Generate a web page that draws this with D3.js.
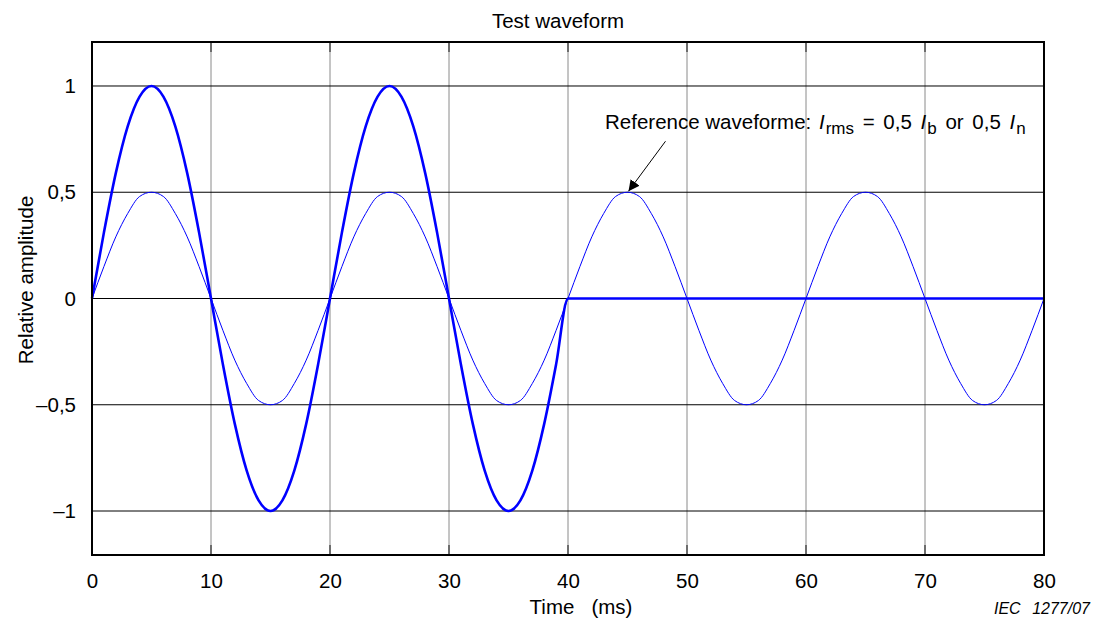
<!DOCTYPE html>
<html>
<head>
<meta charset="utf-8">
<script src="https://cdn.jsdelivr.net/npm/d3@7"></script>
<style>
  body { margin: 0; background: #fff; }
  svg text { font-family: "Liberation Sans", Arial, sans-serif; fill: #000; }
</style>
</head>
<body>
<div id="chart"></div>
<script>
// --- Data (time in ms, relative amplitude) ---
const timeMs = d3.range(0, 81, 1);

const referenceWave = [
  0, 0.15, 0.29, 0.40, 0.48, 0.50, 0.48, 0.40, 0.29, 0.15,
  0, -0.15, -0.29, -0.40, -0.48, -0.50, -0.48, -0.40, -0.29, -0.15,
  0, 0.15, 0.29, 0.40, 0.48, 0.50, 0.48, 0.40, 0.29, 0.15,
  0, -0.15, -0.29, -0.40, -0.48, -0.50, -0.48, -0.40, -0.29, -0.15,
  0, 0.15, 0.29, 0.40, 0.48, 0.50, 0.48, 0.40, 0.29, 0.15,
  0, -0.15, -0.29, -0.40, -0.48, -0.50, -0.48, -0.40, -0.29, -0.15,
  0, 0.15, 0.29, 0.40, 0.48, 0.50, 0.48, 0.40, 0.29, 0.15,
  0, -0.15, -0.29, -0.40, -0.48, -0.50, -0.48, -0.40, -0.29, -0.15,
  0
];

const testWave = [
  0, 0.31, 0.59, 0.81, 0.95, 1.00, 0.95, 0.81, 0.59, 0.31,
  0, -0.31, -0.59, -0.81, -0.95, -1.00, -0.95, -0.81, -0.59, -0.31,
  0, 0.31, 0.59, 0.81, 0.95, 1.00, 0.95, 0.81, 0.59, 0.31,
  0, -0.31, -0.59, -0.81, -0.95, -1.00, -0.95, -0.81, -0.59, -0.31,
  0, 0, 0, 0, 0, 0, 0, 0, 0, 0,
  0, 0, 0, 0, 0, 0, 0, 0, 0, 0,
  0, 0, 0, 0, 0, 0, 0, 0, 0, 0,
  0, 0, 0, 0, 0, 0, 0, 0, 0, 0,
  0
];

const xTicks = [0, 10, 20, 30, 40, 50, 60, 70, 80];
const yTicks = [-1, -0.5, 0, 0.5, 1];
const yTickLabels = ["\u20131", "\u20130,5", "0", "0,5", "1"];

// --- Layout ---
const width = 1097, height = 630;
const margin = { top: 42, right: 53, bottom: 75, left: 92 };
const innerW = width - margin.left - margin.right;
const innerH = height - margin.top - margin.bottom;
const FONT = '20.5px';

const svg = d3.select('#chart').append('svg')
  .attr('width', width)
  .attr('height', height);

const x = d3.scaleLinear().domain([0, 80]).range([margin.left, margin.left + innerW]);
const y = d3.scaleLinear().domain([-1.207, 1.207]).range([margin.top + innerH, margin.top]);

// grid: light vertical, black horizontal
svg.append('g').selectAll('line')
  .data(xTicks.slice(1, -1))
  .join('line')
  .attr('x1', d => x(d)).attr('x2', d => x(d))
  .attr('y1', margin.top).attr('y2', margin.top + innerH)
  .attr('stroke', '#8a8a8a').attr('stroke-width', 1);

svg.append('g').selectAll('line')
  .data(yTicks)
  .join('line')
  .attr('x1', margin.left).attr('x2', margin.left + innerW)
  .attr('y1', d => y(d)).attr('y2', d => y(d))
  .attr('stroke', '#000').attr('stroke-width', 1);

// short inner tick marks along the frame
const tickLen = 10;
const ticks = svg.append('g').attr('stroke', '#333').attr('stroke-width', 1.2);
ticks.selectAll('line.t')
  .data(xTicks.slice(1, -1))
  .join('line')
  .attr('x1', d => x(d)).attr('x2', d => x(d))
  .attr('y1', margin.top).attr('y2', margin.top + tickLen);
ticks.selectAll('line.b')
  .data(xTicks.slice(1, -1))
  .join('line')
  .attr('x1', d => x(d)).attr('x2', d => x(d))
  .attr('y1', margin.top + innerH - tickLen).attr('y2', margin.top + innerH);

// axes (labels only, frame drawn separately)
const xAxis = svg.append('g')
  .attr('transform', `translate(0,${margin.top + innerH})`)
  .call(d3.axisBottom(x).tickValues(xTicks).tickSize(0).tickPadding(18));
const yAxis = svg.append('g')
  .attr('transform', `translate(${margin.left},0)`)
  .call(d3.axisLeft(y).tickValues(yTicks).tickSize(0).tickPadding(16)
    .tickFormat((d, i) => yTickLabels[i]));
[xAxis, yAxis].forEach(a => {
  a.select('.domain').remove();
  a.selectAll('text').style('font-size', FONT).attr('fill', '#000');
});

// curves
const pts = vals => timeMs.map((t, i) => [t, vals[i]]);
const line = d3.line().x(d => x(d[0])).y(d => y(d[1])).curve(d3.curveMonotoneX);

svg.append('path')
  .datum(pts(referenceWave))
  .attr('d', line)
  .attr('fill', 'none')
  .attr('stroke', '#0000ff')
  .attr('stroke-width', 1);

svg.append('path')
  .datum(pts(testWave))
  .attr('d', line)
  .attr('fill', 'none')
  .attr('stroke', '#0000ff')
  .attr('stroke-width', 2.6)
  .attr('stroke-linejoin', 'round');

// frame
svg.append('rect')
  .attr('x', margin.left).attr('y', margin.top)
  .attr('width', innerW).attr('height', innerH)
  .attr('fill', 'none').attr('stroke', '#000').attr('stroke-width', 2);

// title and axis titles
svg.append('text')
  .attr('x', 558).attr('y', 28)
  .attr('text-anchor', 'middle').style('font-size', FONT)
  .text('Test waveform');

svg.append('text')
  .attr('x', 581).attr('y', 614)
  .attr('text-anchor', 'middle').style('font-size', FONT)
  .attr('xml:space', 'preserve')
  .text('Time   (ms)');

svg.append('text')
  .attr('transform', 'translate(33,280) rotate(-90)')
  .attr('text-anchor', 'middle').style('font-size', FONT)
  .text('Relative amplitude');

svg.append('text')
  .attr('x', 994).attr('y', 614)
  .style('font-size', '16px').style('font-style', 'italic')
  .text('IEC');
svg.append('text')
  .attr('x', 1090).attr('y', 614)
  .attr('text-anchor', 'end')
  .style('font-size', '16px').style('font-style', 'italic')
  .text('1277/07');

// annotation
svg.append('defs').append('marker')
  .attr('id', 'arrow')
  .attr('viewBox', '0 0 10 10')
  .attr('refX', 10).attr('refY', 5)
  .attr('markerWidth', 11).attr('markerHeight', 11)
  .attr('markerUnits', 'userSpaceOnUse')
  .attr('orient', 'auto')
  .append('path').attr('d', 'M0,0L10,5L0,10z').attr('fill', '#000');

const peakT = 45, peakV = 0.5;
svg.append('line')
  .attr('x1', x(peakT) + 38).attr('y1', y(peakV) - 51)
  .attr('x2', x(peakT) + 1).attr('y2', y(peakV) - 1)
  .attr('stroke', '#000').attr('stroke-width', 1)
  .attr('marker-end', 'url(#arrow)');

const ann = svg.append('text')
  .attr('x', 605).attr('y', 129)
  .style('font-size', FONT);
ann.append('tspan').text('Reference waveforme: ');
ann.append('tspan').attr('dx', 2).style('font-style', 'italic').text('I');
ann.append('tspan').attr('dx', 1).attr('dy', 5).style('font-size', '17px').text('rms');
ann.append('tspan').attr('dy', -5).style('word-spacing', '3px').text(' = 0,5 ');
ann.append('tspan').style('font-style', 'italic').text('I');
ann.append('tspan').attr('dx', 1).attr('dy', 5).style('font-size', '17px').text('b');
ann.append('tspan').attr('dy', -5).style('word-spacing', '3px').text(' or 0,5 ');
ann.append('tspan').style('font-style', 'italic').text('I');
ann.append('tspan').attr('dx', 1).attr('dy', 5).style('font-size', '17px').text('n');
</script>
</body>
</html>
